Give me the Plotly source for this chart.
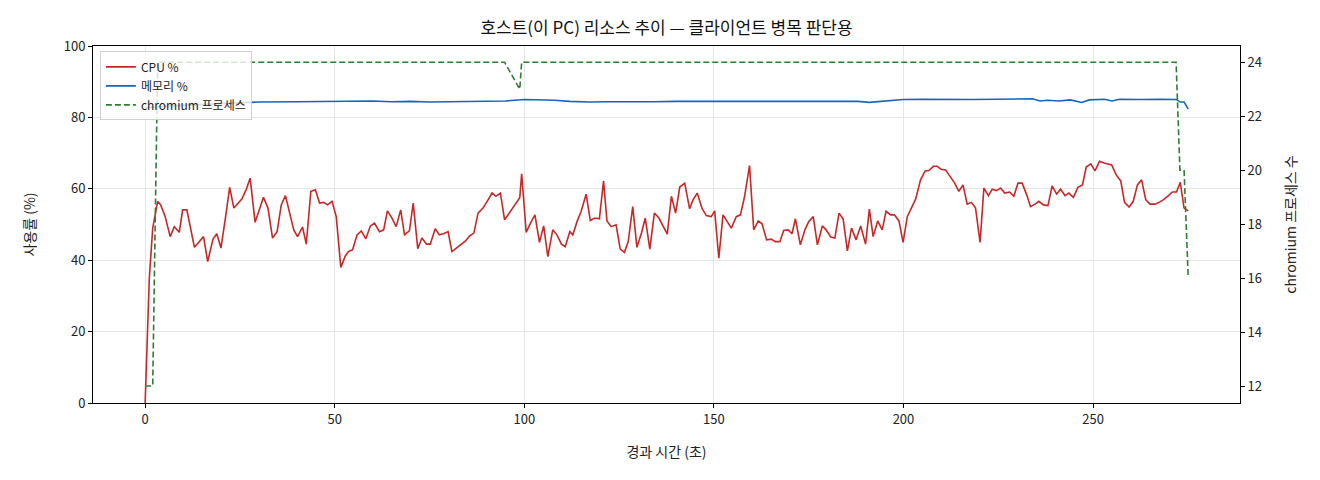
import plotly.graph_objects as go

# CPU 사용률 (경과 시간 초, %)
cpu_t = [0, 1.1, 2.0, 3.3, 4.1, 5.3, 6.6, 7.7, 9.0, 9.9, 11.0, 13.0, 14.2, 15.4, 16.5, 17.9, 18.9, 20.0,
         21.2, 22.3, 23.4, 24.4, 25.5, 26.7, 27.7, 29.0, 30.1, 31.2, 32.4, 33.6, 34.8, 35.9, 37.0, 38.1,
         39.2, 40.2, 41.5, 42.5, 43.7, 44.9, 46.0, 47.1, 48.1, 49.3, 50.4, 51.6, 52.8, 53.6, 54.7, 55.9,
         57.0, 58.2, 59.4, 60.5, 61.8, 62.9, 63.9, 65.1, 66.2, 67.4, 68.4, 69.7, 70.7, 71.9, 73.0, 74.2,
         75.2, 76.5, 77.6, 78.7, 79.9, 80.9, 82.1, 83.3, 84.5, 85.6, 86.7, 87.8, 89.1, 90.2, 91.5, 92.5,
         93.7, 94.8, 98.8, 99.3, 100.5, 101.6, 102.8, 104.0, 105.1, 106.2, 107.5, 108.6, 109.8, 110.8,
         112.0, 112.8, 113.9, 115.0, 116.3, 117.4, 118.6, 119.8, 120.9, 121.8, 122.9, 124.2, 125.3,
         126.4, 127.4, 128.6, 129.7, 130.9, 131.9, 133.1, 134.3, 135.5, 136.5, 137.7, 138.8, 139.9,
         141.0, 142.3, 143.6, 144.5, 145.6, 146.9, 148.0, 149.3, 150.2, 151.3, 152.4, 153.7, 154.6,
         155.9, 157.0, 158.1, 159.4, 160.5, 161.7, 162.7, 163.9, 165.1, 166.2, 167.4, 168.4, 169.6,
         170.6, 171.5, 172.8, 174.0, 175.0, 176.2, 177.3, 178.6, 179.6, 180.8, 181.9, 183.0, 184.1,
         185.2, 186.3, 187.5, 188.7, 190.0, 191.0, 192.0, 193.2, 194.4, 195.4, 196.6, 197.6, 198.8,
         199.9, 201.0, 202.1, 203.2, 204.5, 205.7, 206.7, 207.9, 208.9, 209.9, 211.1, 212.2, 213.5,
         214.6, 215.7, 216.8, 217.9, 219.0, 220.2, 221.2, 222.4, 223.4, 224.5, 225.6, 226.7, 228.0,
         229.1, 230.2, 231.3, 232.5, 233.5, 234.7, 235.7, 236.9, 238.1, 239.2, 240.4, 241.4, 242.6,
         243.6, 244.8, 246.0, 247.2, 248.2, 249.4, 250.5, 251.7, 252.9, 253.8, 254.9, 256.1, 257.3,
         258.3, 259.5, 260.6, 261.7, 262.8, 263.9, 265.0, 266.3, 267.4, 268.5, 269.8, 270.9, 272.0,
         273.0, 274.0, 275.1]
cpu = [0, 35, 49, 56.5, 55.5, 52.2, 46.6, 49.4, 47.8, 54.1, 54.1, 43.6, 45.1, 46.6, 39.6, 45.9, 47.4, 43.4,
       52.0, 60.4, 54.6, 55.8, 57.1, 59.9, 63.0, 50.6, 54.1, 57.6, 54.6, 46.2, 48.0, 55.5, 58.1, 53.3,
       48.5, 46.6, 49.3, 44.5, 59.3, 59.7, 56.0, 56.2, 55.5, 56.5, 52.2, 38.0, 41.2, 42.4, 42.9, 47.1,
       48.2, 46.0, 49.6, 50.4, 48.0, 48.5, 53.8, 51.8, 49.4, 54.1, 47.1, 48.2, 56.0, 43.2, 46.2, 44.5,
       44.5, 48.8, 47.1, 47.4, 48.0, 42.4, 43.4, 44.6, 45.4, 46.8, 47.6, 53.2, 54.6, 56.5, 58.8, 57.9,
       58.8, 51.3, 57.5, 64.2, 47.8, 50.3, 52.7, 45.0, 49.6, 41.0, 48.5, 47.1, 44.5, 43.8,
       48.0, 47.1, 50.8, 53.7, 58.5, 51.1, 51.8, 51.6, 62.2, 51.0, 49.4, 49.9, 43.1,
       42.2, 45.2, 55.0, 43.6, 47.6, 51.8, 43.1, 53.2, 51.8, 49.9, 47.3, 57.9, 53.2,
       60.5, 61.6, 54.4, 56.9, 58.8, 54.4, 52.5, 52.2, 53.8, 40.6, 52.7, 50.4, 49.0,
       52.2, 52.7, 57.9, 66.5, 48.5, 51.0, 50.2, 45.7, 45.9, 45.2, 45.2, 48.3, 48.5,
       47.4, 51.6, 44.3, 48.5, 50.8, 52.2, 44.3, 49.6, 48.5, 46.5, 46.2, 53.2, 51.5,
       42.6, 49.0, 45.7, 49.6, 44.5, 54.3, 46.6, 51.0, 48.5, 53.7, 52.7, 52.7, 51.0,
       45.0, 52.2, 54.6, 57.1, 62.5, 65.0, 65.1, 66.3, 66.3, 65.5, 65.3, 63.5, 61.6,
       59.3, 61.1, 55.7, 56.2, 54.6, 45.0, 60.2, 58.1, 59.9, 59.5, 60.2, 58.8, 59.1,
       57.9, 61.6, 61.6, 58.3, 55.0, 55.7, 56.5, 55.5, 55.3, 60.8, 58.5, 59.9, 58.1,
       58.8, 57.6, 60.4, 61.1, 66.1, 67.0, 65.0, 67.7, 67.2, 67.0, 66.7, 63.9, 62.2,
       56.2, 54.9, 56.5, 61.1, 62.5, 56.9, 55.7, 55.7, 56.2, 56.9, 58.0, 59.1, 59.1,
       61.8, 54.6, 53.8]

# 메모리 사용률
mem_t = [0, 3, 8, 15, 22, 30, 40, 50, 55, 60, 65, 70, 75, 80, 85, 90, 95, 100, 103, 108, 112, 117,
         122, 128, 134, 140, 146, 152, 158, 164, 170, 176, 182, 188, 191, 195, 200, 205, 212, 218,
         225, 230, 234, 236, 238, 241, 244, 247, 249, 253, 255, 257, 262, 268, 272, 273, 274, 275.1]
mem = [82.6, 83.0, 83.3, 83.6, 83.9, 84.3, 84.4, 84.6, 84.5, 84.6, 84.4, 84.5, 84.3, 84.4, 84.3, 84.5,
       84.6, 85.0, 85.0, 84.8, 84.5, 84.3, 84.4, 84.3, 84.4, 84.5, 84.5, 84.6, 84.6, 84.7, 84.5, 84.6,
       84.6, 84.5, 84.2, 84.6, 85.0, 85.1, 85.0, 85.0, 85.1, 85.1, 85.2, 84.6, 84.8, 84.6, 84.9, 84.2,
       84.9, 85.1, 84.6, 85.1, 85.0, 85.1, 85.0, 84.3, 84.3, 82.3]

# chromium 프로세스 수
proc_t = [0, 1.1, 2.0, 3.3, 94.8, 98.8, 99.3, 271.9, 272.9, 274.0, 275.1]
proc = [12, 12, 12, 24, 24, 23, 24, 24, 20, 20, 16]

font = "Noto Sans CJK KR"

fig = go.Figure()
fig.add_trace(go.Scatter(x=cpu_t, y=cpu, mode='lines', name='CPU %',
                         line=dict(color='#c62828', width=1.6)))
fig.add_trace(go.Scatter(x=mem_t, y=mem, mode='lines', name='메모리 %',
                         line=dict(color='#1565c0', width=1.6)))
fig.add_trace(go.Scatter(x=proc_t, y=proc, mode='lines', name='chromium 프로세스',
                         line=dict(color='#2e7d32', width=1.6, dash='6px,3px'), yaxis='y2'))

# page puts the plot 8px in from the corner, margins account for that
fig.update_layout(
    width=1320,
    height=480,
    plot_bgcolor='white',
    paper_bgcolor='white',
    font=dict(family=font, size=13, color='#222'),
    margin=dict(l=85, r=88, t=38, b=85),
    title=dict(text='호스트(이 PC) 리소스 추이 — 클라이언트 병목 판단용', x=0.5, xref='paper',
               y=0.958, yanchor='middle', font=dict(size=17, color='#111')),
    legend=dict(x=0.006, y=0.985, xanchor='left', yanchor='top',
                bgcolor='rgba(255,255,255,0.8)', bordercolor='#d0d0d0', borderwidth=1,
                font=dict(size=12), tracegroupgap=0),
)

fig.update_xaxes(
    range=[-13.75, 288.75],
    dtick=50,
    showgrid=True, gridcolor='#e6e6e6', gridwidth=1,
    zeroline=False,
    showline=True, linecolor='black', linewidth=1, mirror=True,
    ticks='outside', ticklen=4, tickcolor='black',
    tickfont=dict(size=13),
    title=dict(text='경과 시간 (초)', font=dict(size=14), standoff=20),
)

fig.update_layout(
    yaxis=dict(
        range=[0, 100], dtick=20,
        showgrid=True, gridcolor='#e6e6e6', gridwidth=1,
        zeroline=False,
        showline=True, linecolor='black', linewidth=1, mirror=True,
        ticks='outside', ticklen=4, tickcolor='black',
        tickfont=dict(size=13),
        title=dict(text='사용률 (%)', font=dict(size=14), standoff=24),
    ),
    yaxis2=dict(
        overlaying='y', side='right',
        range=[11.37, 24.6], dtick=2,
        showgrid=False, zeroline=False,
        showline=True, linecolor='black', linewidth=1,
        ticks='outside', ticklen=4, tickcolor='black',
        tickfont=dict(size=13),
        title=dict(text='chromium 프로세스 수', font=dict(size=14), standoff=25),
    ),
)

fig.write_html("out.html")
